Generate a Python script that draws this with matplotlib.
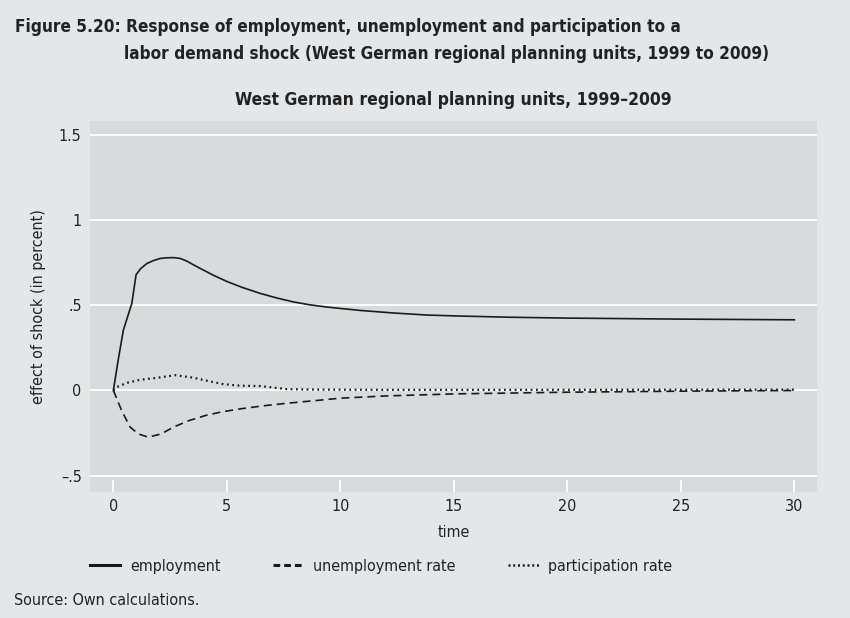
import matplotlib
matplotlib.use("Agg")
import matplotlib.pyplot as plt
from matplotlib.lines import Line2D

# impulse responses, periods after the shock
emp_time = [0, 0.2, 0.44, 0.81, 1.0, 1.2, 1.47, 1.75, 2.06, 2.35, 2.65, 2.95,
            3.23, 3.5, 3.82, 4.4, 5, 5.7, 6.47, 7.2, 7.93, 8.65, 9.4, 10.87,
            12.34, 13.8, 15.28, 17.5, 20, 25, 30]
employment = [0, 0.17, 0.355, 0.51, 0.68, 0.715, 0.745, 0.762, 0.775, 0.779,
              0.78, 0.775, 0.76, 0.74, 0.717, 0.677, 0.64, 0.604, 0.57, 0.543,
              0.52, 0.503, 0.49, 0.47, 0.455, 0.443, 0.437, 0.43, 0.425, 0.419,
              0.415]

unemp_time = [0, 0.37, 0.74, 1.1, 1.54, 2.1, 2.65, 3.3, 4.1, 4.8, 5.58, 6.6,
              7.64, 9, 10, 12, 15, 20, 25, 30]
unemployment = [0, -0.12, -0.215, -0.255, -0.274, -0.255, -0.215, -0.178,
                -0.145, -0.125, -0.108, -0.09, -0.075, -0.058, -0.045, -0.032,
                -0.02, -0.01, -0.004, 0.0]

part_time = [0, 0.15, 0.6, 1.18, 1.91, 2.72, 3.53, 4.2, 4.85, 5.6, 6.47, 7.0,
             7.64, 9, 12, 20, 30]
participation = [0, 0.02, 0.045, 0.063, 0.074, 0.09, 0.075, 0.055, 0.037,
                 0.028, 0.026, 0.018, 0.008, 0.005, 0.004, 0.004, 0.005]

xticks = [0, 5, 10, 15, 20, 25, 30]
yticks = [-0.5, 0, 0.5, 1, 1.5]
ytick_labels = ["\u2013.5", "0", ".5", "1", "1.5"]

plt.rcParams["font.family"] = ["DejaVu Sans"]
plt.rcParams["font.stretch"] = "condensed"
TXT = "#222222"
INK = "#1a1a1a"

fig = plt.figure(figsize=(8.5, 6.18), dpi=100)
fig.patch.set_facecolor("#e5e6e8")

ax = fig.add_axes([0.1059, 0.2044, 0.8553, 0.5998])
ax.set_facecolor("#d9dadc")
for s in ax.spines.values():
    s.set_visible(False)

ax.plot(emp_time, employment, color=INK, lw=1.2, ls="-")
ax.plot(unemp_time, unemployment, color=INK, lw=1.2, ls=(0, (4.8, 3.0)))
ax.plot(part_time, participation, color=INK, lw=1.6, ls=(0, (0.8, 1.6)))

ax.set_xlim(-1.03, 31.0)
ax.set_ylim(-0.594, 1.582)
ax.set_yticks(yticks)
ax.set_yticklabels(ytick_labels)
ax.set_xticks(xticks)
ax.grid(axis="y", color="white", lw=1.3)
ax.set_axisbelow(True)
ax.tick_params(axis="y", length=0, pad=6, labelsize=11.5, labelcolor=TXT)
ax.tick_params(axis="x", direction="in", length=9, width=1.3, color="white",
               pad=5, labelsize=11.5, labelcolor=TXT)

ax.set_xlabel("time", fontsize=11.5, color=TXT, labelpad=8)
ax.set_ylabel("effect of shock (in percent)", fontsize=11.5, color=TXT, labelpad=9)
ax.set_title("West German regional planning units, 1999\u20132009",
             fontsize=12.5, fontweight="bold", color=TXT, pad=11.5)

fig.text(0.018, 0.956, "Figure 5.20: Response of employment, unemployment and participation to a",
         fontsize=12.3, fontweight="bold", color=TXT, va="center")
fig.text(0.146, 0.912, "labor demand shock (West German regional planning units, 1999 to 2009)",
         fontsize=12.3, fontweight="bold", color=TXT, va="center")

handles = [
    Line2D([], [], color=INK, lw=2.2, ls="-"),
    Line2D([], [], color=INK, lw=2.2, ls=(0, (2.2, 1.3))),
    Line2D([], [], color=INK, lw=1.8, ls=(0, (0.8, 1.1))),
]
fig.legend(handles, ["employment", "unemployment rate", "participation rate"],
           loc="center left", bbox_to_anchor=(0.089, 0.084), ncol=3, frameon=False,
           fontsize=11.5, handlelength=1.9, handletextpad=0.6, columnspacing=3.3,
           labelcolor=TXT)

fig.text(0.016, 0.029, "Source: Own calculations.", fontsize=11.5, color=TXT, va="center")

fig.savefig("out.png", dpi=100, facecolor=fig.get_facecolor())
